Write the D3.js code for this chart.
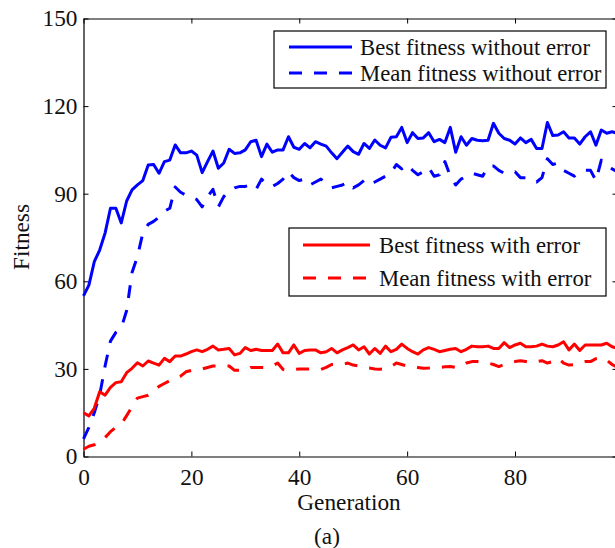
<!DOCTYPE html>
<html>
<head>
<meta charset="utf-8">
<script src="https://cdn.jsdelivr.net/npm/d3@7"></script>
<style>
  html, body { margin: 0; padding: 0; background: #fff; }
  svg { display: block; }
  text { font-family: "Liberation Serif", "Times New Roman", serif; fill: #111; }
</style>
</head>
<body>
<script>
// ---------- data (generations 0..99) ----------
const bestNoErr = [55,58.7,66.7,70.7,76.5,85,85,80,87.5,91.3,93,94.5,99.8,100,97,101,101.5,106.7,104,104,
  104.6,103.2,97.2,101,104.6,98.7,100.5,105.2,103.8,104,105,107.8,108.3,102.7,107,104.2,105,105,109.5,105.9,
  105.2,107.2,105.7,107.8,107,106.3,104,102,104.2,106.3,104.4,103.5,107.2,105.5,108.4,106.6,105.7,109.3,109.5,112.7,
  107.5,110.9,108.9,109.1,110.9,107.8,108.6,107.5,112.7,104.2,109.5,106.6,108.9,108.3,108.1,108.3,114.1,110.7,108.9,108.3,
  107,109.1,107.5,108.6,105.5,105.5,114.4,109.9,110.1,111.2,109.1,109.1,107,109.5,111.2,106.6,111.8,110.7,111.2,110.7];
const meanNoErr = [6,10,15,21,31,39.5,42.5,44,50,63,68.5,76.5,79.5,80.5,82,84,85,92.3,90.5,89.5,
  89,88,85.5,89,91.5,85.5,89,91,92,92.5,92.5,93,91.5,95,93,92.5,93.5,95,97.5,95.5,
  94.5,95,93,94,95,93.5,92,92.5,93,94,92,93,94.5,93,94,95,96,97,100,98.5,
  100,98,96.5,97.5,99,96,96.5,101,96,93,95,96,97,96.5,96,99.5,99.5,98,97,97,
  97.5,95.5,95.5,95,94,95.5,102,100,100.5,98,97,96,97.5,98,98,94.5,101.5,99.5,98.5,97.5];
const bestErr = [15,13.9,16.5,22.2,21,23.7,25.3,25.6,28.7,30.2,32.1,31,32.7,32,31.3,33.6,32.5,34.4,34.4,35.1,
  35.9,36.5,35.9,36.7,37.8,36.5,36.7,37,34.8,35.3,37.3,36.3,36.7,36.3,36.3,36.3,38.5,35.5,35.5,38.2,
  35.3,36.3,36.5,36.5,35.5,35.9,37,35.5,36.5,37.3,38.2,36.5,37.6,35.1,37,35.3,37.8,35.9,36.7,38.5,
  37,35.9,35.1,36.5,37.3,36.7,35.9,36.3,36.7,37,35.9,36.7,37.8,37.6,37.6,37.8,37,37,39,37.3,
  38.2,38.8,37.6,37.6,37.8,38.5,37.8,37.6,38.2,39.3,36.5,38.5,36.3,38.2,38.2,38.2,38.2,38.8,37.6,37];
const meanErr = [2.5,3.5,4,5,6.5,8.5,10,11,14,17,20,20.5,21,22.5,24,25,26,26.5,27.5,29,
  29.5,30,30,30.5,31,31,31,31,29.5,29.5,29.5,30.5,30.5,30.5,30.5,31,32,29.8,29.5,29.8,
  30,30,30,30,29.8,30.5,31.5,31.5,31.5,32,31.3,31,30.5,30.3,30,29.9,30,30.8,32,31.5,
  31,30.8,30.5,30.2,30.3,30.5,30.5,30.7,30.8,30.5,30.8,32,32.5,32.5,32.2,32,31.5,30.8,31.5,32,
  32.5,32.8,32.5,32.2,32.5,32.8,32,32.5,33.6,32,31.3,31.5,32,32.5,32.5,33.5,33.8,33,31.5,30.5];

const xTicks = [0, 20, 40, 60, 80];
const yTicks = [0, 30, 60, 90, 120, 150];
const legend1Labels = ["Best fitness without error", "Mean fitness without error"];
const legend2Labels = ["Best fitness with error", "Mean fitness with error"];
const xLabel = "Generation";
const yLabel = "Fitness";
const caption = "(a)";

// ---------- drawing ----------
const W = 615, H = 548;
const svg = d3.select("body").append("svg").attr("width", W).attr("height", H);
svg.append("rect").attr("width", W).attr("height", H).attr("fill", "#fff");

const x = d3.scaleLinear().domain([0, 99]).range([83.5, 617.5]);
const y = d3.scaleLinear().domain([0, 150]).range([456.5, 18.5]);
const FS = 23.3;   // axis text
const LFS = 22.7;  // legend text

// axes
const gx = svg.append("g").attr("transform", `translate(0,${y(0)})`)
  .call(d3.axisBottom(x).tickValues(xTicks).tickSizeInner(-5).tickSizeOuter(0).tickPadding(12));
const gy = svg.append("g").attr("transform", `translate(${x(0)},0)`)
  .call(d3.axisLeft(y).tickValues(yTicks).tickSizeInner(-5).tickSizeOuter(0).tickPadding(6));
const gt = svg.append("g").attr("transform", `translate(0,${y(150)})`)
  .call(d3.axisTop(x).tickValues(xTicks).tickSizeInner(-5).tickSizeOuter(0).tickFormat(""));
const gr = svg.append("g").attr("transform", `translate(${x(99)},0)`)
  .call(d3.axisRight(y).tickValues(yTicks).tickSizeInner(-5).tickSizeOuter(0).tickFormat(""));
[gx, gy, gt, gr].forEach(g => {
  g.selectAll("path.domain").attr("stroke", "#000").attr("stroke-width", 1.2);
  g.selectAll(".tick line").attr("stroke", "#000").attr("stroke-width", 1);
  g.selectAll(".tick text").attr("font-size", FS).attr("font-family", "Liberation Serif, serif").attr("fill", "#222");
});

// lines
const line = d3.line().x((d, i) => x(i)).y(d => y(d));
const series = [
  { data: bestNoErr, color: "#0000ff", dash: null },
  { data: meanNoErr, color: "#0000ff", dash: "13,12" },
  { data: bestErr, color: "#ff0000", dash: null },
  { data: meanErr, color: "#ff0000", dash: "13,12" }
];
series.forEach(s => {
  svg.append("path").datum(s.data)
    .attr("d", line).attr("fill", "none")
    .attr("stroke", s.color).attr("stroke-width", 3)
    .attr("stroke-linejoin", "round")
    .attr("stroke-dasharray", s.dash);
});

// labels
svg.append("text").attr("x", 349).attr("y", 510).attr("text-anchor", "middle")
  .attr("font-size", FS).text(xLabel);
svg.append("text").attr("transform", "translate(29,237) rotate(-90)").attr("text-anchor", "middle")
  .attr("font-size", FS).text(yLabel);
svg.append("text").attr("x", 327).attr("y", 544).attr("text-anchor", "middle")
  .attr("font-size", FS).text(caption);

// legends
function legend(box, items) {
  svg.append("rect").attr("x", box.x).attr("y", box.y).attr("width", box.w).attr("height", box.h)
    .attr("fill", "#fff").attr("stroke", "#000").attr("stroke-width", 1.2);
  items.forEach(it => {
    svg.append("line").attr("x1", box.lx1).attr("x2", box.lx2).attr("y1", it.y).attr("y2", it.y)
      .attr("stroke", it.color).attr("stroke-width", 3).attr("stroke-dasharray", it.dash);
    svg.append("text").attr("x", box.tx).attr("y", it.y + 7.5).attr("font-size", LFS).text(it.label);
  });
}
legend({ x: 274, y: 31, w: 332, h: 57, lx1: 289, lx2: 352, tx: 360 }, [
  { y: 47, color: "#0000ff", dash: null, label: legend1Labels[0] },
  { y: 73, color: "#0000ff", dash: "13,12", label: legend1Labels[1] }
]);
legend({ x: 289, y: 228, w: 317, h: 68, lx1: 303, lx2: 370, tx: 379 }, [
  { y: 245, color: "#ff0000", dash: null, label: legend2Labels[0] },
  { y: 278, color: "#ff0000", dash: "13,12", label: legend2Labels[1] }
]);
</script>
</body>
</html>
